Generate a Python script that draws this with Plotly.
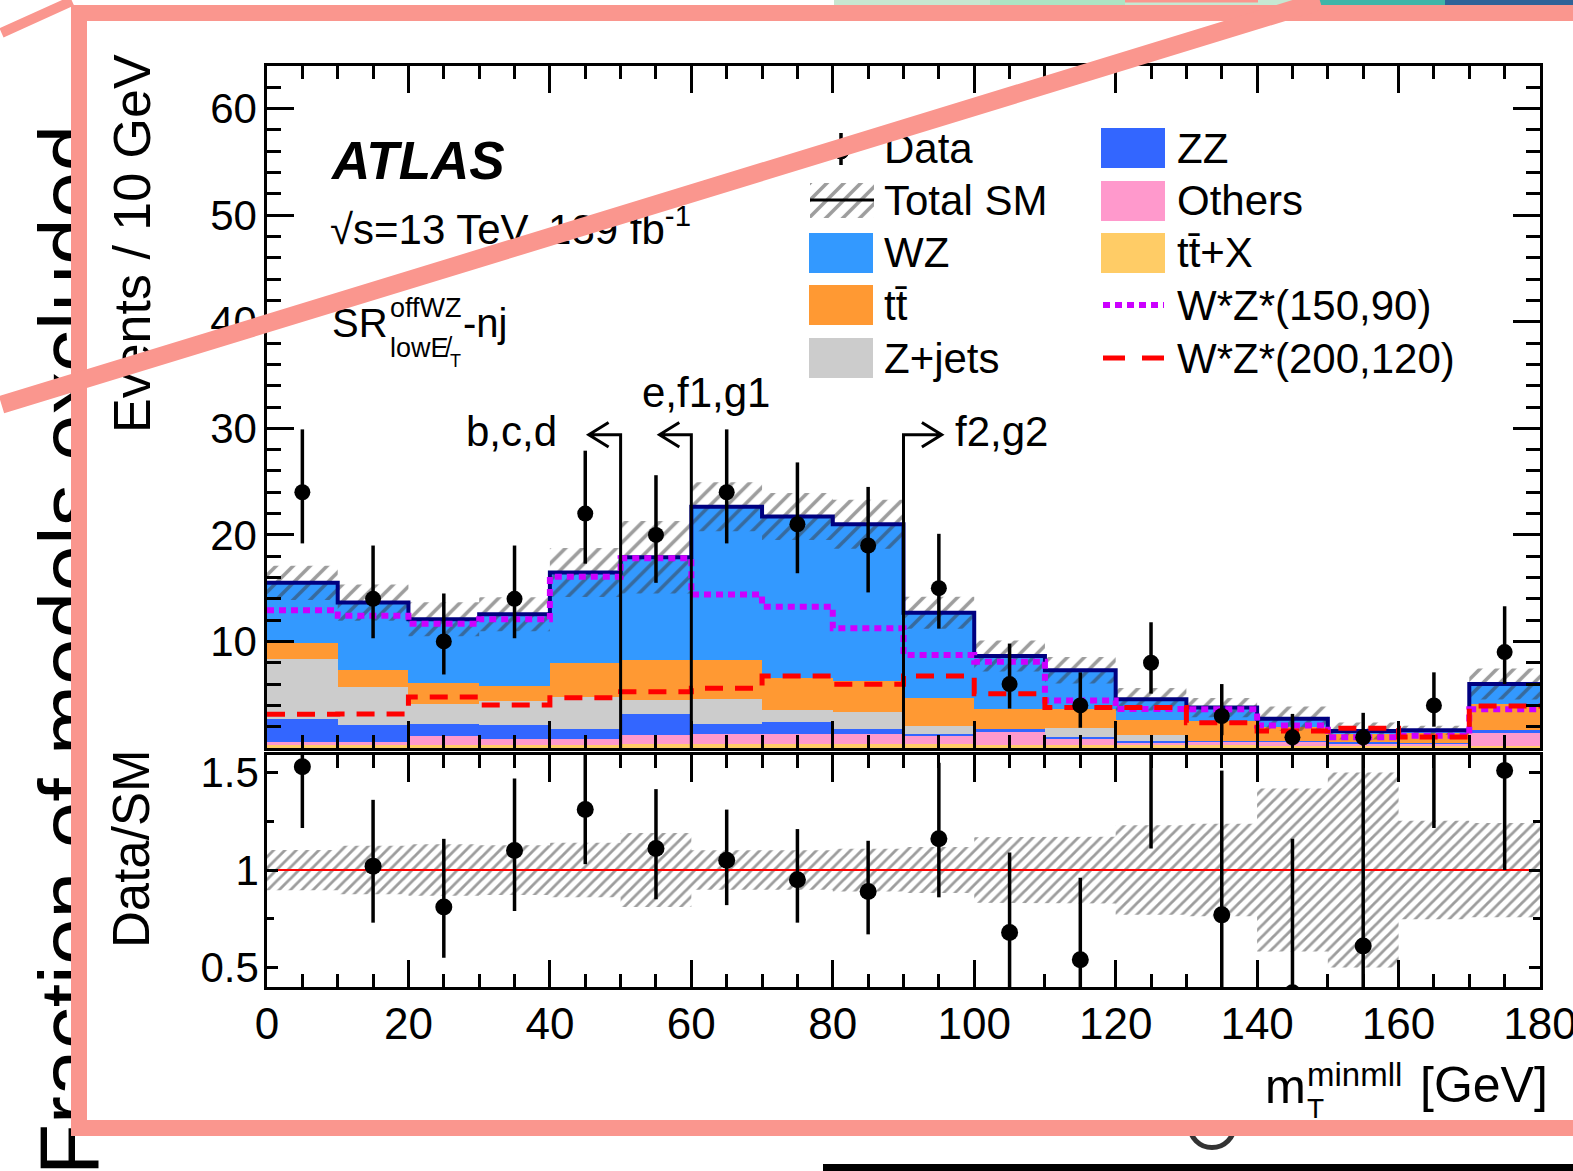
import plotly.graph_objects as go

# ---------------------------------------------------------------- canvas
W, H = 1573, 1171
ML, MR, MT, MB = 267, 33, 66, 184
PW = W - ML - MR
PH = H - MT - MB


def fx(p):
    """pixel column -> paper x"""
    return (p - ML) / PW


def fy(p):
    """pixel row -> paper y"""
    return (H - MB - p) / PH


FONT = "Liberation Sans, Arial, Helvetica, sans-serif"
PINK = "rgb(250,150,142)"

# ---------------------------------------------------------------- data
bin_edges = [0, 10, 20, 30, 40, 50, 60, 70, 80, 90, 100, 110, 120, 130, 140, 150, 160, 170, 180]
bin_centres = [5, 15, 25, 35, 45, 55, 65, 75, 85, 95, 105, 115, 125, 135, 145, 155, 165, 175]

# SM backgrounds, events per bin (stacked bottom -> top)
ttx = [0.28, 0.28, 0.28, 0.28, 0.28, 0.34, 0.34, 0.34, 0.34, 0.35, 0.30, 0.30, 0.25, 0.25, 0.20, 0.15, 0.15, 0.20]
others = [0.31, 0.31, 0.85, 0.53, 0.53, 0.88, 1.00, 1.00, 1.00, 0.75, 1.20, 0.60, 0.30, 0.35, 0.40, 0.30, 0.30, 1.30]
zz = [2.10, 1.54, 1.15, 1.32, 1.00, 2.01, 0.94, 1.10, 0.47, 0.25, 0.30, 0.10, 0.10, 0.05, 0.06, 0.10, 0.05, 0.16]
zjets = [5.64, 3.59, 1.82, 2.28, 2.98, 1.25, 2.29, 1.10, 1.60, 0.70, 0.00, 0.90, 0.60, 0.00, 0.00, 0.00, 0.00, 0.00]
ttbar = [1.56, 1.57, 2.03, 1.41, 3.22, 3.78, 3.66, 3.00, 2.88, 2.67, 1.90, 1.73, 1.40, 1.88, 1.30, 0.75, 0.90, 2.44]
wz = [5.61, 6.36, 5.95, 6.73, 8.45, 9.64, 14.40, 15.18, 14.71, 7.98, 4.94, 3.67, 1.92, 1.26, 0.79, 0.30, 0.26, 1.90]

# total SM uncertainty (absolute)
sm_unc = [1.6, 1.7, 1.6, 1.6, 2.3, 3.4, 2.3, 2.2, 2.3, 1.5, 1.45, 1.25, 1.05, 0.9, 1.15, 0.8, 0.42, 1.45]

# signal benchmarks
sig_150_90 = [12.93, 12.4, 11.67, 12.08, 16.06, 17.8, 14.4, 13.25, 11.24, 8.73, 8.1, 4.46, 3.65, 3.63, 2.1, 1.0, 1.15, 3.63]
sig_200_120 = [3.16, 3.2, 4.78, 4.03, 4.72, 5.28, 5.6, 6.76, 5.98, 6.76, 5.1, 3.79, 3.79, 2.38, 1.6, 1.85, 1.03, 3.94]

# observed data with Poisson intervals
data = [24, 14, 10, 14, 22, 20, 24, 21, 19, 15, 6, 4, 8, 3, 1, 1, 4, 9]
data_lo = [19.2, 10.3, 6.9, 10.3, 17.3, 15.5, 19.2, 16.4, 14.6, 11.2, 3.7, 1.9, 5.1, 1.2, 0.2, 0.2, 2.0, 6.0]
data_hi = [29.9, 19.0, 14.5, 19.0, 27.9, 25.6, 29.9, 26.8, 24.5, 20.1, 9.8, 7.1, 11.8, 6.0, 3.2, 3.3, 7.1, 13.3]

# Data / SM
ratio = [1.53, 1.02, 0.81, 1.10, 1.31, 1.11, 1.05, 0.95, 0.89, 1.16, 0.68, 0.54, 1.75, 0.77, 0.37, 0.61, 2.40, 1.51]
ratio_lo = [1.215, 0.73, 0.55, 0.79, 1.03, 0.85, 0.82, 0.73, 0.67, 0.86, 0.38, 0.28, 1.11, 0.33, 0.07, 0.12, 1.215, 1.00]
ratio_hi = [1.93, 1.36, 1.16, 1.47, 1.69, 1.415, 1.31, 1.21, 1.15, 1.55, 1.09, 0.96, 2.6, 1.51, 1.16, 2.06, 4.3, 2.2]

# signal-region boundaries marked with arrows: (boundary, direction)
cuts = [(50, -1), (60, -1), (90, +1)]
cut_height = 29.4

backgrounds = [
    ("tt\u0304+X", ttx, "#ffcc66"),
    ("Others", others, "#ff99cc"),
    ("ZZ", zz, "#3366ff"),
    ("Z+jets", zjets, "#cccccc"),
    ("tt\u0304", ttbar, "#ff9933"),
    ("WZ", wz, "#3399ff"),
]

n_bins = len(bin_centres)
sm_total = [sum(b[1][i] for b in backgrounds) for i in range(n_bins)]


def steps(vals):
    return bin_edges, list(vals) + [vals[-1]]


def band(lo, hi):
    xs, ys = [], []
    for i in range(n_bins):
        xs += [bin_edges[i], bin_edges[i + 1]]
        ys += [hi[i], hi[i]]
    for i in reversed(range(n_bins)):
        xs += [bin_edges[i + 1], bin_edges[i]]
        ys += [lo[i], lo[i]]
    return xs, ys


HATCH = dict(shape="/", fgcolor="#3c3c3c", bgcolor="rgba(0,0,0,0)", size=12, solidity=0.3)
HATCH_R = dict(shape="/", fgcolor="#3c3c3c", bgcolor="rgba(0,0,0,0)", size=8, solidity=0.35)

fig = go.Figure()

# stacked backgrounds
for name, vals, col in backgrounds:
    fig.add_trace(go.Bar(x=bin_centres, y=vals, width=10, name=name,
                         marker=dict(color=col, line=dict(width=0)),
                         xaxis="x", yaxis="y"))

# SM uncertainty band
hx, hy = band([t - u for t, u in zip(sm_total, sm_unc)], [t + u for t, u in zip(sm_total, sm_unc)])
fig.add_trace(go.Scatter(x=hx, y=hy, mode="lines", fill="toself", fillcolor="rgba(0,0,0,0)",
                         fillpattern=HATCH, line=dict(width=0), xaxis="x", yaxis="y"))

# SM total outline
sx, sy = steps(sm_total)
fig.add_trace(go.Scatter(x=sx, y=sy, mode="lines", line=dict(color="#000080", width=4, shape="hv"),
                         xaxis="x", yaxis="y"))

# signals
sx, sy = steps(sig_150_90)
fig.add_trace(go.Scatter(x=sx, y=sy, mode="lines",
                         line=dict(color="#cc00ff", width=6, shape="hv", dash="7px,5px"),
                         xaxis="x", yaxis="y"))
sx, sy = steps(sig_200_120)
fig.add_trace(go.Scatter(x=sx, y=sy, mode="lines",
                         line=dict(color="#ff0000", width=5, shape="hv", dash="18px,12px"),
                         xaxis="x", yaxis="y"))

# data
fig.add_trace(go.Scatter(
    x=bin_centres, y=data, mode="markers",
    marker=dict(color="black", size=16),
    error_y=dict(type="data", symmetric=False,
                 array=[h - d for h, d in zip(data_hi, data)],
                 arrayminus=[d - l for d, l in zip(data, data_lo)],
                 width=0, thickness=3.5, color="black"),
    xaxis="x", yaxis="y"))

# ratio panel: relative SM uncertainty
rx, ry = band([1 - u / t for t, u in zip(sm_total, sm_unc)], [1 + u / t for t, u in zip(sm_total, sm_unc)])
fig.add_trace(go.Scatter(x=rx, y=ry, mode="lines", fill="toself", fillcolor="rgba(0,0,0,0)",
                         fillpattern=HATCH_R, line=dict(width=0), xaxis="x2", yaxis="y2"))
fig.add_trace(go.Scatter(x=[bin_edges[0], bin_edges[-1]], y=[1, 1], mode="lines",
                         line=dict(color="#ff0000", width=2), xaxis="x2", yaxis="y2"))
fig.add_trace(go.Scatter(
    x=bin_centres, y=ratio, mode="markers",
    marker=dict(color="black", size=17),
    error_y=dict(type="data", symmetric=False,
                 array=[h - r for h, r in zip(ratio_hi, ratio)],
                 arrayminus=[r - l for r, l in zip(ratio, ratio_lo)],
                 width=0, thickness=3.5, color="black"),
    xaxis="x2", yaxis="y2"))

# hatched swatch for the legend entry "Total SM"
fig.add_trace(go.Scatter(x=[0, 1, 1, 0, 0], y=[0, 0, 1, 1, 0], mode="lines", fill="toself",
                         fillcolor="rgba(0,0,0,0)", fillpattern=HATCH, line=dict(width=0),
                         xaxis="x3", yaxis="y3"))

# ---------------------------------------------------------------- axes
common = dict(showline=True, linecolor="black", linewidth=2.5, mirror="ticks", ticks="inside",
              tickcolor="black", tickwidth=2.5, showgrid=False, zeroline=False,
              automargin=False, fixedrange=True, ticklabeloverflow="allow")

fig.update_layout(
    width=W, height=H,
    margin=dict(l=ML, r=MR, t=MT, b=MB, pad=0, autoexpand=False),
    paper_bgcolor="white", plot_bgcolor="rgba(0,0,0,0)",
    showlegend=False, barmode="stack", bargap=0,
    xaxis=dict(domain=[0, 1], anchor="y", range=[0, 180], showticklabels=False,
               tickmode="linear", tick0=0, dtick=20, ticklen=27,
               minor=dict(tickmode="linear", tick0=0, dtick=5, ticks="inside", ticklen=13,
                          tickwidth=2.5, tickcolor="black"), **common),
    yaxis=dict(domain=[fy(748), 1], anchor="x", range=[0, 64],
               tickmode="array", tickvals=[0, 10, 20, 30, 40, 50, 60],
               ticktext=["", "10", "20", "30", "40", "50", "60"], ticklen=27,
               ticklabelstandoff=-1, tickfont=dict(family=FONT, size=42, color="black"),
               minor=dict(tickmode="linear", tick0=0, dtick=2, ticks="inside", ticklen=14,
                          tickwidth=2.5, tickcolor="black"), **common),
    xaxis2=dict(domain=[0, 1], anchor="y2", range=[0, 180],
                tickmode="linear", tick0=0, dtick=20, ticklen=27, ticklabelstandoff=-4,
                tickfont=dict(family=FONT, size=44, color="black"),
                minor=dict(tickmode="linear", tick0=0, dtick=5, ticks="inside", ticklen=13,
                           tickwidth=2.5, tickcolor="black"), **common),
    yaxis2=dict(domain=[0, fy(755)], anchor="x2", range=[0.4, 1.59],
                tickmode="array", tickvals=[0.5, 1, 1.5], ticktext=["0.5", "1", "1.5"],
                ticklen=11, ticklabelstandoff=-3, tickfont=dict(family=FONT, size=42, color="black"),
                minor=dict(tickmode="linear", tick0=0.25, dtick=0.25, ticks="inside", ticklen=7,
                           tickwidth=2.5, tickcolor="black"), **common),
    xaxis3=dict(domain=[fx(810), fx(874)], anchor="y3", range=[0, 1], visible=False, fixedrange=True),
    yaxis3=dict(domain=[fy(218), fy(183)], anchor="x3", range=[0, 1], visible=False, fixedrange=True),
)

# ---------------------------------------------------------------- shapes
shapes = []


def prect(x0, y0, x1, y1, fill, layer="below", **kw):
    shapes.append(dict(type="rect", xref="paper", yref="paper", x0=fx(x0), x1=fx(x1),
                       y0=fy(y1), y1=fy(y0), fillcolor=fill, line=dict(width=0),
                       layer=layer, **kw))


# page behind the figure panel
shapes.append(dict(type="rect", xref="paper", yref="paper", x0=fx(21), x1=fx(101),
                   y0=fy(1240), y1=fy(60), line=dict(width=0), fillcolor="rgba(0,0,0,0)",
                   layer="below",
                   label=dict(text="Fraction of models excluded", textangle=-90,
                              textposition="middle center",
                              font=dict(family=FONT, size=84, color="black"))))
prect(834, -3, 990, 5, "#c8e6d0")
prect(990, -3, 1125, 5, "#ade4c3")
prect(1125, -3, 1317, 5, "#c6e8d2")
prect(1125, -3, 1258, 2.5, PINK)
prect(1317, -3, 1445, 5, "#3fb5a8")
prect(1445, -3, 1600, 5, "#2f6398")
shapes.append(dict(type="circle", xref="paper", yref="paper", x0=fx(1189.5), x1=fx(1234.5),
                   y0=fy(1147.5), y1=fy(1102.5), line=dict(color="#333333", width=5),
                   fillcolor="rgba(0,0,0,0)", layer="below"))
prect(823, 1164, 1600, 1180, "black")

# white figure panel with its frame
shapes.append(dict(type="rect", xref="paper", yref="paper", x0=fx(79), x1=fx(1640),
                   y0=fy(1128), y1=fy(13), fillcolor="white",
                   line=dict(color=PINK, width=16), layer="below"))

# region boundaries: vertical line, horizontal stem and open arrow head
STEM = {-1: 4.5, +1: 5.4}
HEAD_DX, HEAD_DY = 2.8, 1.15
for c, d in cuts:
    tip = c + d * STEM[d]
    back = tip - d * HEAD_DX
    path = (f"M {c},0 L {c},{cut_height} L {tip},{cut_height} "
            f"M {back},{cut_height + HEAD_DY} L {tip},{cut_height} L {back},{cut_height - HEAD_DY}")
    shapes.append(dict(type="path", xref="x", yref="y", path=path,
                       line=dict(color="black", width=3), layer="above"))

# legend swatches
col_l, col_r = (809, 873), (1101, 1165)
rows = [148, 201, 253, 305, 358]
for (x0, x1), r, name in [(col_l, rows[2], "WZ"), (col_l, rows[3], "tt\u0304"), (col_l, rows[4], "Z+jets"),
                          (col_r, rows[0], "ZZ"), (col_r, rows[1], "Others"), (col_r, rows[2], "tt\u0304+X")]:
    colour = [b[2] for b in backgrounds if b[0] == name][0]
    prect(x0, r - 20, x1, r + 20, colour, layer="above")

# data marker
shapes.append(dict(type="line", xref="paper", yref="paper", x0=fx(841), x1=fx(841),
                   y0=fy(165), y1=fy(133), line=dict(color="black", width=3.5), layer="above"))
shapes.append(dict(type="circle", xref="paper", yref="paper", x0=fx(833), x1=fx(849),
                   y0=fy(159), y1=fy(143), fillcolor="black", line=dict(color="black", width=1),
                   layer="above"))
# Total SM line through the hatch
shapes.append(dict(type="line", xref="paper", yref="paper", x0=fx(810), x1=fx(874),
                   y0=fy(200), y1=fy(200), line=dict(color="black", width=3), layer="above"))
# signal samples
shapes.append(dict(type="line", xref="paper", yref="paper", x0=fx(1103), x1=fx(1164),
                   y0=fy(305), y1=fy(305), line=dict(color="#cc00ff", width=6, dash="7px,5px"),
                   layer="above"))
shapes.append(dict(type="line", xref="paper", yref="paper", x0=fx(1103), x1=fx(1164),
                   y0=fy(358), y1=fy(358), line=dict(color="#ff0000", width=5, dash="22px,17px"),
                   layer="above"))

# ---------------------------------------------------------------- text
ann = []


def txt(s, x, y, size, xanchor="left", angle=0, bold=False, italic=False):
    ann.append(dict(text=s, x=fx(x), y=fy(y), xref="paper", yref="paper", showarrow=False,
                    xanchor=xanchor, yanchor="middle", textangle=angle,
                    font=dict(family=FONT, size=size, color="black",
                              weight="bold" if bold else "normal",
                              style="italic" if italic else "normal")))


txt("Events / 10 GeV", 132, 244, 52, xanchor="center", angle=-90)
txt("Data/SM", 132, 849, 51, xanchor="center", angle=-90)

txt("ATLAS", 328, 160, 53, bold=True, italic=True)
txt("\u221as=13 TeV, 139 fb<sup>-1</sup>", 328, 226, 42)
txt("SR", 330, 323, 40)
txt("offWZ", 388, 308, 27)
txt("lowE\u0338", 388, 348, 27)
txt("T", 448, 361, 18)
txt("-nj", 461, 323, 40)

txt("b,c,d", 559, 432, 42, xanchor="right")
txt("e,f1,g1", 706, 392, 42, xanchor="center")
txt("f2,g2", 953, 432, 42)

for label, r in zip(["Data", "Total SM", "WZ", "tt\u0304", "Z+jets"], rows):
    txt(label, 882, r, 42)
for label, r in zip(["ZZ", "Others", "tt\u0304+X", "W*Z*(150,90)", "W*Z*(200,120)"], rows):
    txt(label, 1175, r, 42)

txt("m", 1263, 1086, 49)
txt("T", 1305, 1108, 28)
txt("minmll", 1305, 1074, 33)
txt("[GeV]", 1418, 1085, 50)

# overlay strokes across the page
ann.append(dict(x=fx(1320), y=fy(-9.3), xref="paper", yref="paper", ax=-1340, ay=414.5,
                axref="pixel", ayref="pixel", text="", showarrow=True, arrowhead=0,
                arrowwidth=18, arrowcolor=PINK, standoff=0))
ann.append(dict(x=fx(72), y=fy(-4.4), xref="paper", yref="paper", ax=-82, ay=38,
                axref="pixel", ayref="pixel", text="", showarrow=True, arrowhead=0,
                arrowwidth=10, arrowcolor=PINK, standoff=0))

fig.update_layout(shapes=shapes, annotations=ann)
fig.write_html("out.html")
